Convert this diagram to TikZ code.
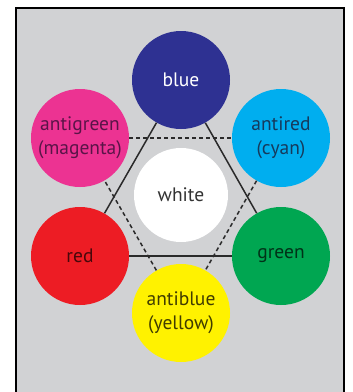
\documentclass[tikz,border=0pt]{standalone}
\usepackage{fontspec}
\setmainfont{PT Sans}
\usetikzlibrary{positioning}

\definecolor{panelgray}{HTML}{D1D2D4}
\definecolor{edgegray}{HTML}{2A2A2A}
\definecolor{ballblue}{HTML}{2E3192}
\definecolor{ballmagenta}{HTML}{EC3392}
\definecolor{ballcyan}{HTML}{00AEEF}
\definecolor{ballred}{HTML}{ED1C24}
\definecolor{ballgreen}{HTML}{00A651}
\definecolor{ballyellow}{HTML}{FFF200}
\definecolor{magentatext}{HTML}{5A1448}
\definecolor{cyantext}{HTML}{163A5C}

\begin{document}
\begin{tikzpicture}[x=1pt,y=-1pt,
    colorball/.style={circle, minimum size=98pt, inner sep=0pt, align=center,
      font=\fontsize{19.5}{24}\selectfont},
    solidedge/.style={line width=1.5pt, draw=edgegray},
    dashededge/.style={line width=1.5pt, draw=edgegray, dash pattern=on 4pt off 3pt}]
  \clip (0,0) rectangle (353,392);

  % Panel
  \draw[line width=2pt, fill=panelgray] (16,8) rectangle (344,402);

  % Colour balls
  \node[colorball, fill=ballblue, text=white] (blue) at (181,80) {blue};
  \node[colorball, fill=ballmagenta, text=magentatext] (antigreen) at (80,138) {antigreen\\(magenta)};
  \node[colorball, fill=ballcyan, text=cyantext] (antired) at (281,138) {antired\\(cyan)};
  \node[colorball, fill=white, minimum size=94pt, text=black!80] (white) at (181,195) {white};
  \node[colorball, fill=ballred, text=black!70!ballred] (red) at (80,256) {red};
  \node[colorball, fill=ballgreen, text=black!70!ballgreen] (green) at (281,256) {green};
  \node[colorball, fill=ballyellow, text=black!75!ballyellow] (antiblue) at (181,313) {antiblue\\(yellow)};

  % Colour triangle
  \draw[solidedge] (blue) -- (red);
  \draw[solidedge] (red) -- (green);
  \draw[solidedge] (green) -- (blue);

  % Anticolour triangle
  \draw[dashededge] (antigreen) -- (antired);
  \draw[dashededge] (antired) -- (antiblue);
  \draw[dashededge] (antiblue) -- (antigreen);
\end{tikzpicture}
\end{document}
